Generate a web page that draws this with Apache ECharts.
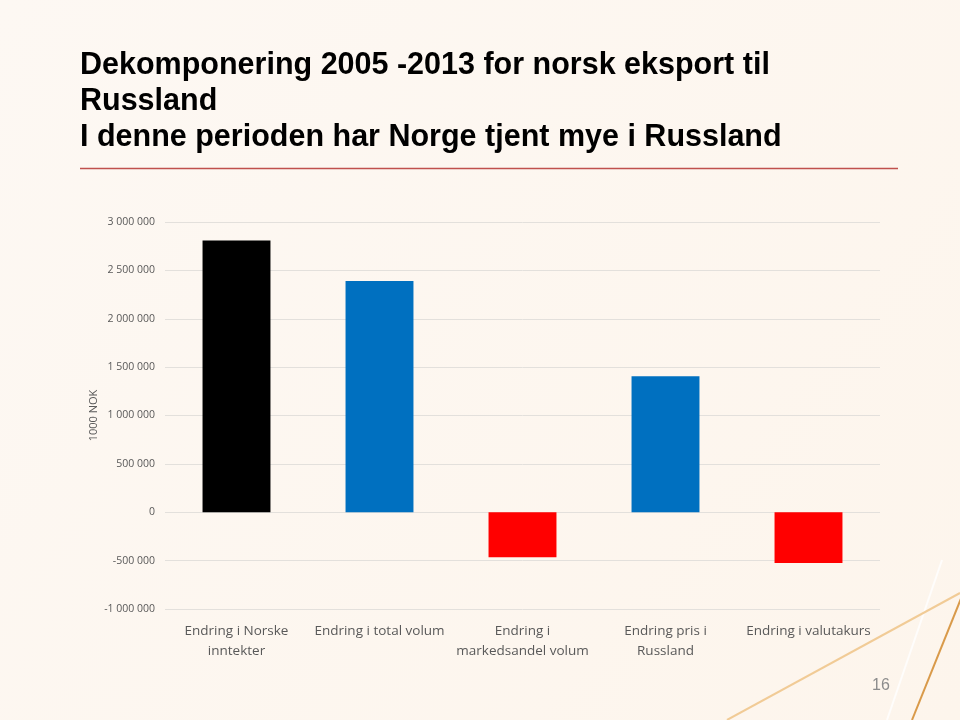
<!DOCTYPE html>
<html>
<head>
<meta charset="utf-8">
<script src="https://cdn.jsdelivr.net/npm/echarts@6/dist/echarts.min.js"></script>
<style>
html,body{margin:0;padding:0;background:#fdf7f1;}
#chart{width:960px;height:720px;}
</style>
</head>
<body>
<div id="chart"></div>
<script>
var titleLines = ['Dekomponering 2005 -2013 for norsk eksport til', 'Russland', 'I denne perioden har Norge tjent mye i Russland'];
var categories = ['Endring i Norske\ninntekter', 'Endring i total volum', 'Endring i\nmarkedsandel volum', 'Endring pris i\nRussland', 'Endring i valutakurs'];
var values = [2810000, 2390000, -465000, 1405000, -525000];
var barColors = ['#000000', '#0070c0', '#ff0000', '#0070c0', '#ff0000'];
var yAxisName = '1000 NOK';
var pageNumber = '16';

function fmt(v){
  var neg = v < 0; var s = String(Math.abs(v));
  s = s.replace(/\B(?=(\d{3})+(?!\d))/g, ' ');
  return (neg ? '-' : '') + s;
}

var chart = echarts.init(document.getElementById('chart'));
chart.setOption({
  backgroundColor: {
    type: 'linear', x: 0, y: 0, x2: 1, y2: 1,
    colorStops: [{offset: 0, color: '#fdf8f3'}, {offset: 1, color: '#fdf5ec'}]
  },
  title: {
    text: titleLines.join('\n'),
    left: 80, top: 48, padding: 0,
    textStyle: {fontFamily: 'Liberation Sans', fontWeight: 'bold', fontSize: 30.5, lineHeight: 36, color: '#000'}
  },
  graphic: [
    {type: 'line', shape: {x1: 80, y1: 168.5, x2: 898, y2: 168.5}, style: {stroke: '#c0504d', lineWidth: 1.5}, silent: true},
    {type: 'line', shape: {x1: 887, y1: 720, x2: 942, y2: 560}, style: {stroke: '#ffffff', lineWidth: 2, opacity: 0.8}, silent: true},
    {type: 'line', shape: {x1: 727, y1: 720, x2: 960, y2: 593}, style: {stroke: '#f1cb96', lineWidth: 2}, silent: true},
    {type: 'line', shape: {x1: 912, y1: 720, x2: 962, y2: 596}, style: {stroke: '#d99a4a', lineWidth: 2}, silent: true},
    {type: 'text', left: 872, top: 678, style: {text: pageNumber, fontFamily: 'Liberation Sans', fontSize: 16, fill: '#8c8c8c'}, silent: true}
  ],
  grid: {left: 165, right: 80, top: 222, bottom: 111},
  xAxis: {
    type: 'category', data: categories,
    axisLine: {show: false}, axisTick: {show: false},
    axisLabel: {interval: 0, margin: 12, fontFamily: 'Open Sans', fontSize: 13.5, lineHeight: 20, color: '#595959'}
  },
  yAxis: {
    type: 'value', min: -1000000, max: 3000000, interval: 500000,
    name: yAxisName, nameLocation: 'middle', nameGap: 66, nameMoveOverlap: false,
    nameTextStyle: {fontFamily: 'Open Sans', fontSize: 11, color: '#595959'},
    axisLine: {show: false}, axisTick: {show: false},
    axisLabel: {margin: 10, fontFamily: 'Open Sans', fontSize: 10.5, color: '#595959', formatter: fmt},
    splitLine: {lineStyle: {color: '#e3e0dc', width: 1}}
  },
  series: [{
    type: 'bar', barWidth: '47.5%',
    data: values.map(function(v, i){ return {value: v, itemStyle: {color: barColors[i]}}; })
  }]
});
</script>
</body>
</html>
